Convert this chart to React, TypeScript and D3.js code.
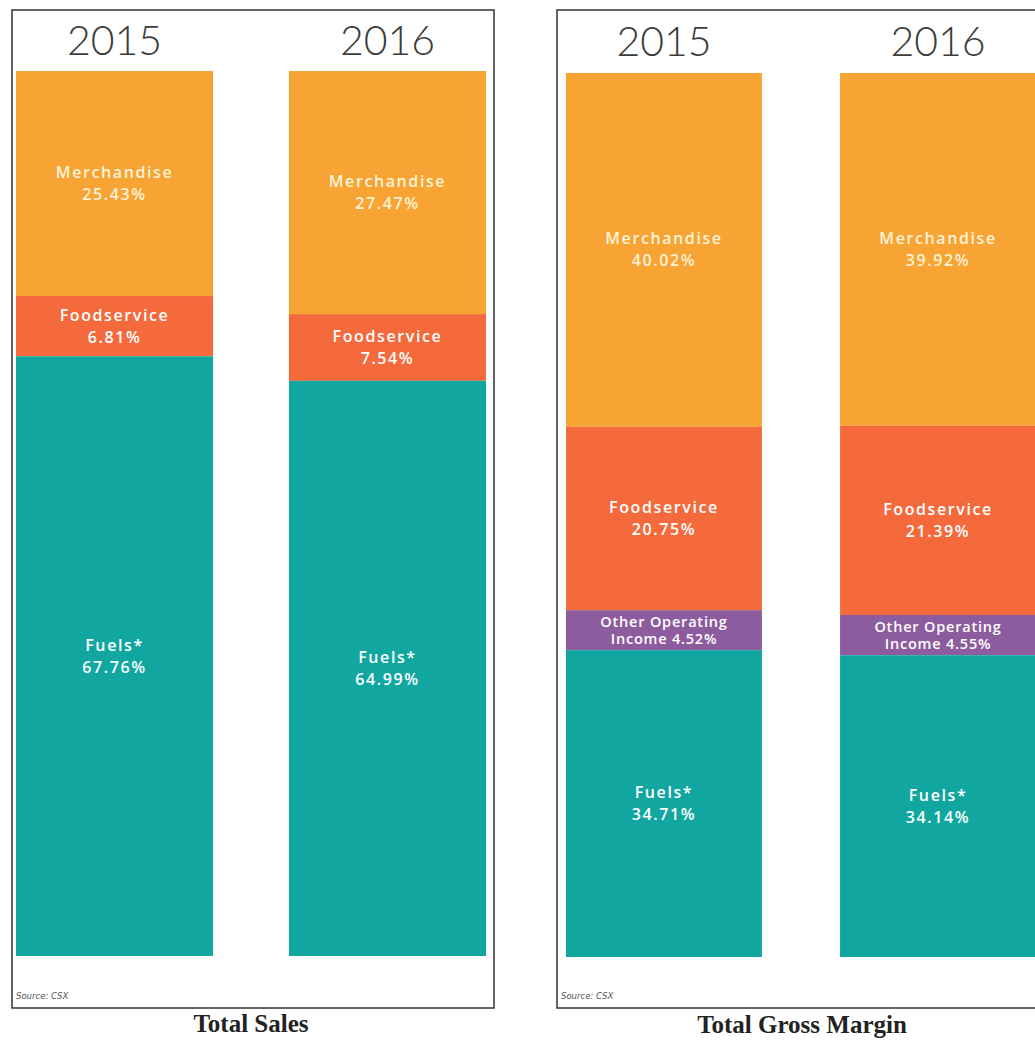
import React from "react";
import * as d3 from "d3";

const years = ["2015", "2016"];
const salesCategories = ["Merchandise", "Foodservice", "Fuels*"];
const sales2015 = [25.43, 6.81, 67.76];
const sales2016 = [27.47, 7.54, 64.99];
const marginCategories = ["Merchandise", "Foodservice", "Other Operating Income", "Fuels*"];
const margin2015 = [40.02, 20.75, 4.52, 34.71];
const margin2016 = [39.92, 21.39, 4.55, 34.14];
const panelTitles = ["Total Sales", "Total Gross Margin"];
const sourceText = "Source: CSX";

const colorOf: Record<string, string> = {
  Merchandise: "#F7A435",
  Foodservice: "#F46A3D",
  "Other Operating Income": "#8D5C9E",
  "Fuels*": "#11A7A0",
};

const fmt = (v: number) => v.toFixed(2) + "%";

function labelLines(cat: string, v: number): string[] {
  if (cat === "Other Operating Income") return ["Other Operating", "Income " + fmt(v)];
  return [cat, fmt(v)];
}

type PanelProps = {
  cats: string[];
  values: number[][];
  frame: [number, number, number, number];
  xRange: [number, number];
  padInner: number;
  yTop: number;
  yBottom: number;
  title: string;
  titleX: number;
  titleY: number;
  yearY: number;
};

function Panel(p: PanelProps) {
  const x = d3.scaleBand<string>().domain(years).range(p.xRange).paddingInner(p.padInner).paddingOuter(0);
  const y = d3.scaleLinear().domain([0, 100]).range([p.yTop, p.yBottom]);
  const [fx, fy, fw, fh] = p.frame;
  return (
    <g>
      <rect x={fx} y={fy} width={fw} height={fh} fill="none" stroke="#333" strokeWidth={1.5} />
      {years.map((yr, i) => {
        const vals = p.values[i];
        let cum = 0;
        const bx = x(yr)!;
        const bw = x.bandwidth();
        return (
          <g key={yr}>
            <text
              x={bx + bw / 2}
              y={p.yearY}
              textAnchor="middle"
              fontFamily="Lato, 'Open Sans', sans-serif"
              fontWeight={300}
              fontSize={41}
              fill="#3c3c3c"
            >
              {yr}
            </text>
            {p.cats.map((c, j) => {
              const v = vals[j];
              const y0 = y(cum);
              const y1 = y(cum + v);
              cum += v;
              const mid = (y0 + y1) / 2;
              const lines = labelLines(c, v);
              const small = c === "Other Operating Income";
              const fs = small ? 14.5 : 16;
              const lh = small ? 17 : 22;
              const txtColor = c === "Merchandise" ? "#FFF3D6" : "#FFFFFF";
              return (
                <g key={c}>
                  <rect x={bx} y={y0} width={bw} height={y1 - y0} fill={colorOf[c]} />
                  {lines.map((ln, k) => (
                    <text
                      key={k}
                      x={bx + bw / 2}
                      y={mid + (k - (lines.length - 1) / 2) * lh}
                      dy="0.35em"
                      textAnchor="middle"
                      fontFamily="'Open Sans', sans-serif"
                      fontWeight={600}
                      fontSize={fs}
                      letterSpacing={small ? 0.8 : 1.6}
                      fill={txtColor}
                    >
                      {ln}
                    </text>
                  ))}
                </g>
              );
            })}
          </g>
        );
      })}
      <text
        x={fx + 4}
        y={fy + fh - 9}
        fontFamily="'DejaVu Sans', sans-serif"
        fontStyle="italic"
        fontSize={8.5}
        fill="#555"
      >
        {sourceText}
      </text>
      <text
        x={p.titleX}
        y={p.titleY}
        textAnchor="middle"
        fontFamily="'Liberation Serif', 'Times New Roman', serif"
        fontWeight={700}
        fontSize={25}
        fill="#222"
      >
        {p.title}
      </text>
    </g>
  );
}

export default function App() {
  return (
    <svg
      width={1035}
      height={1040}
      style={{ position: "absolute", left: 0, top: 0, background: "#fff" }}
    >
      <rect x={0} y={0} width={1035} height={1040} fill="#fff" />
      <Panel
        cats={salesCategories}
        values={[sales2015, sales2016]}
        frame={[12, 10, 482, 998]}
        xRange={[16, 486]}
        padInner={0.278}
        yTop={71}
        yBottom={956}
        title={panelTitles[0]}
        titleX={251}
        titleY={1032}
        yearY={55}
      />
      <Panel
        cats={marginCategories}
        values={[margin2015, margin2016]}
        frame={[557, 10, 490, 998]}
        xRange={[566, 1036]}
        padInner={0.285}
        yTop={73}
        yBottom={957}
        title={panelTitles[1]}
        titleX={802}
        titleY={1033}
        yearY={56}
      />
    </svg>
  );
}
